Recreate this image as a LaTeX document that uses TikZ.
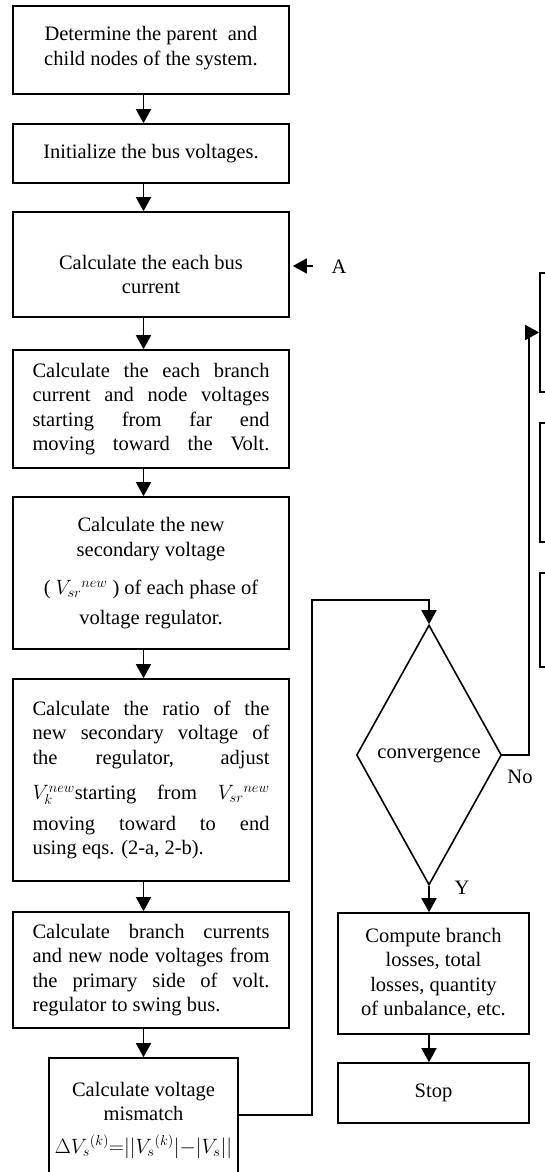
\documentclass[tikz,border=0pt]{standalone}
\usepackage{fontspec}
\setmainfont{Liberation Serif}
\usetikzlibrary{shapes.geometric,arrows.meta}
\begin{document}
\begin{tikzpicture}[x=1pt, y=-1pt, >={Triangle[length=14pt,width=15pt]}, line width=1.6pt,
  font=\fontsize{20.5}{24.5}\selectfont,
  flowbox/.style={draw, rectangle, minimum width=276pt, align=center, inner sep=2pt},
  justbox/.style={draw, rectangle, text width=237pt, inner xsep=19.5pt, align=justify},
  cutbox/.style={draw, rectangle, minimum width=100pt}]
  \useasboundingbox (0,0) rectangle (545,1172);
  \clip (0,0) rectangle (545,1172);
  % main column
  \node[flowbox, minimum height=88pt] (parent) at (151,50) {Determine the parent~ and\\child nodes of the system.\rule[-8pt]{0pt}{8pt}};
  \node[flowbox, minimum height=59pt] (init) at (151,153.5) {Initialize the bus voltages.};
  \node[flowbox, minimum height=105pt] (busI) at (151,264.5) {\rule{0pt}{34pt}Calculate the each bus\\current};
  \node[justbox, minimum height=118pt] (branch) at (151,409) {Calculate the each branch\linebreak current and node voltages\linebreak starting from far end\linebreak moving\hfill toward\hfill the\hfill Volt.};
  \node[flowbox, minimum height=152pt] (vsec) at (151,573) {Calculate the new\\secondary voltage\\[14pt]( $V_{sr}{}^{new}$ ) of each phase of\\[5pt]voltage regulator.};
  \node[justbox, minimum height=202pt] (ratio) at (151,780) {Calculate the ratio of the\linebreak new secondary voltage of\linebreak the regulator, adjust\linebreak \rule[-15pt]{0pt}{45pt}$V_k^{new}$starting from $V_{sr}{}^{new}$\linebreak moving toward to end\linebreak using eqs. (2-a, 2-b).};
  \node[justbox, minimum height=116pt] (prim) at (151,970) {Calculate branch currents\linebreak and new node voltages from\linebreak the primary side of volt.\linebreak regulator to swing bus.};
  \node[flowbox, minimum width=189pt, minimum height=124pt] (mism) at (143.5,1120) {Calculate voltage\\mismatch\\[8pt]$\Delta V_s{}^{(k)}{=}\Bigl|\Bigl|V_s{}^{(k)}\Bigr|{-}\Bigl|V_s\Bigr|\Bigr|$};
  % decision and end
  \node[draw, diamond, aspect=0.56, inner sep=0pt, minimum width=145pt, minimum height=260pt] (conv) at (429,755) {convergence};
  \node[flowbox, minimum width=191pt, minimum height=121pt] (loss) at (433.5,973.5) {Compute branch\\losses, total\\losses, quantity\\of unbalance, etc.};
  \node[flowbox, minimum width=191pt, minimum height=60pt] (stop) at (433.5,1093) {Stop};
  % boxes cut off on the right
  \node[cutbox, minimum height=119pt] (next1) at (590,332.5) {};
  \node[cutbox, minimum height=119pt] (next2) at (590,482.5) {};
  \node[cutbox, minimum height=94pt] (next3) at (590,620) {};
  % labels
  \node (lblA) at (339,267) {A};
  \node (no) at (520,777) {No};
  \node (yes) at (462,888) {Y};
  \coordinate (atail) at (313,266);
  \coordinate (back) at (312,600);
  \coordinate (nobend) at (529,332.5);
  % connectors
  \foreach \a/\b in {parent/init, init/busI, busI/branch, branch/vsec, vsec/ratio, ratio/prim, prim/mism}
    \draw[->] (\a.south -| mism.north) -- (\b.north -| mism.north);
  \draw[->, shorten >=3pt] (atail) -- (atail -| busI.east);
  \draw[->] ([yshift=5pt]mism.east) -| (back) -| (conv.north);
  \draw[->] (conv.east) -| (nobend) -- (next1.west);
  \draw[->] (conv.south) -- (conv.south |- loss.north);
  \draw[->] (loss.south -| conv.south) -- (stop.north -| conv.south);
\end{tikzpicture}
\end{document}
